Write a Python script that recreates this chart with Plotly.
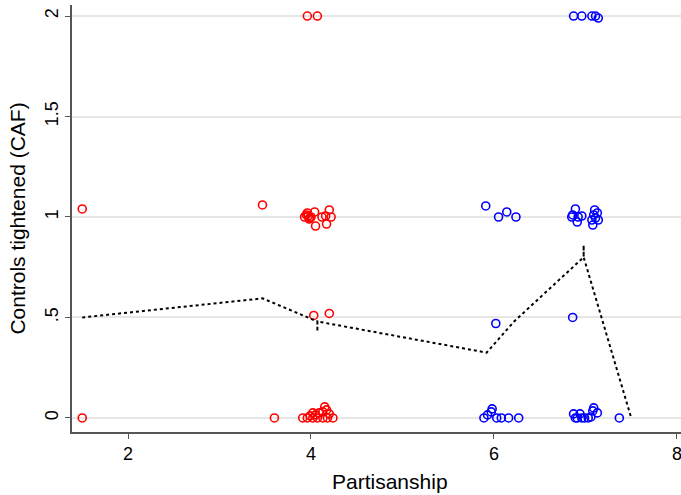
import plotly.graph_objects as go

# Red group (Partisanship <= ~4.3)
red_x = [1.5, 1.5, 3.47, 3.60, 3.96, 4.07, 4.03, 4.20,
         3.96, 3.93, 3.97, 3.99, 4.04, 4.05, 4.12, 4.16, 4.20, 4.22, 4.17, 3.95, 3.98, 4.00,
         3.91, 3.96, 4.02, 4.07, 4.13, 4.18, 4.24, 4.02, 4.09, 4.15, 4.17, 4.13, 4.20, 3.99, 4.05]
red_y = [1.04, 0.0, 1.06, 0.0, 2.0, 2.0, 0.51, 0.52,
         1.02, 1.00, 1.005, 0.995, 1.025, 0.955, 1.0, 1.005, 1.035, 1.0, 0.965, 1.01, 0.99, 1.0,
         0.0, 0.0, 0.0, 0.0, 0.0, 0.0, 0.0, 0.025, 0.025, 0.055, 0.04, 0.03, 0.02, 0.01, 0.015]

# Blue group (Partisanship >= ~5.9)
blue_x = [6.87, 6.96, 7.07, 7.11, 7.14,
          5.91, 6.05, 6.14, 6.24,
          6.85, 6.89, 6.91, 6.96, 6.86, 6.92,
          7.10, 7.13, 7.07, 7.08, 7.14, 7.09, 7.11,
          6.02, 6.86,
          5.89, 5.93, 5.97, 5.98, 6.03, 6.08, 6.16, 6.27,
          6.87, 6.91, 6.94, 6.96, 6.99, 7.03, 7.06, 7.08, 7.09, 7.13, 6.89,
          7.37]
blue_y = [2.0, 2.0, 2.0, 2.0, 1.99,
          1.055, 1.0, 1.025, 1.0,
          1.0, 1.04, 0.975, 1.005, 1.01, 1.0,
          1.035, 1.02, 0.985, 0.96, 0.985, 1.01, 0.995,
          0.47, 0.50,
          0.0, 0.015, 0.03, 0.045, 0.0, 0.0, 0.0, 0.0,
          0.02, 0.0, 0.02, 0.0, 0.0, 0.0, 0.005, 0.035, 0.05, 0.025, 0.0,
          0.0]

# Dotted fit line
fit_x = [1.5, 3.47, 4.07, 4.07, 4.07, 5.92, 6.22, 6.98, 6.98, 6.98, 7.5]
fit_y = [0.50, 0.595, 0.48, 0.43, 0.48, 0.325, 0.48, 0.80, 0.86, 0.80, 0.0]

y_ticks = [0, 0.5, 1, 1.5, 2]
y_tick_text = ["0", ".5", "1", "1.5", "2"]
x_ticks = [2, 4, 6, 8]
x_title = "Partisanship"
y_title = "Controls tightened (CAF)"

fig = go.Figure()
marker_common = dict(symbol="circle-open", size=8)
fig.add_trace(go.Scatter(x=red_x, y=red_y, mode="markers",
                         marker=dict(color="#ff0000", line=dict(width=1.6, color="#ff0000"), **marker_common),
                         showlegend=False))
fig.add_trace(go.Scatter(x=blue_x, y=blue_y, mode="markers",
                         marker=dict(color="#0000ff", line=dict(width=1.6, color="#0000ff"), **marker_common),
                         showlegend=False))
fig.add_trace(go.Scatter(x=fit_x, y=fit_y, mode="lines",
                         line=dict(color="black", width=2, dash="dot"),
                         showlegend=False))

font_family = "Liberation Sans, Arial, sans-serif"
fig.update_layout(
    width=681, height=495,
    margin=dict(l=72, r=0, t=5, b=63),
    paper_bgcolor="white", plot_bgcolor="white",
    font=dict(family=font_family, color="black"),
    xaxis=dict(range=[1.388, 8.044], tickvals=x_ticks, showgrid=False, zeroline=False,
               showline=True, linecolor="#555555", linewidth=1.5,
               ticks="outside", ticklen=5, tickcolor="#555555", tickwidth=1.2,
               tickfont=dict(size=18), ticklabeloverflow="allow"),
    yaxis=dict(range=[-0.07, 2.055], tickvals=y_ticks, ticktext=y_tick_text,
               showgrid=True, gridcolor="#e6e6e6", gridwidth=1.5, zeroline=False,
               showline=True, linecolor="#555555", linewidth=1.5,
               ticks="outside", ticklen=5, tickcolor="#555555", tickwidth=1.2,
               tickangle=-90, tickfont=dict(size=18),
               title=dict(text=y_title, font=dict(size=21), standoff=11)),
    annotations=[dict(text=x_title, xref="paper", yref="paper", x=0.522, y=0,
                      xanchor="center", yanchor="middle", yshift=-49,
                      showarrow=False, font=dict(size=21))],
)

# Remove the browser's default body margin so the figure sits at the page corner.
fig.write_html("out.html", config={"displayModeBar": False},
               post_script="document.body.style.margin='0';")
